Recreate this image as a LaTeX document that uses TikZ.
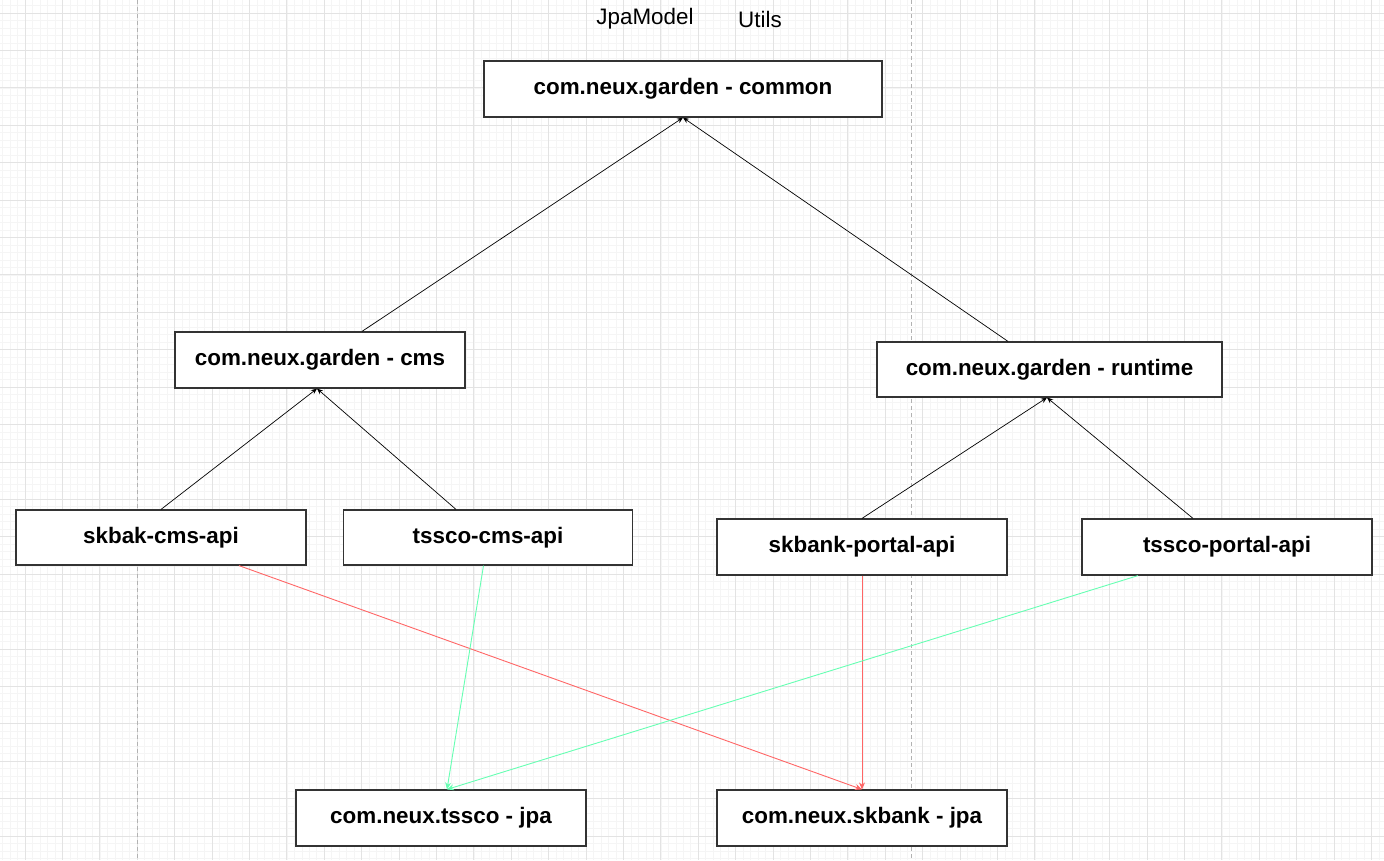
\documentclass[tikz,border=0pt]{standalone}
\usepackage{fontspec}
\setmainfont{Liberation Sans}
\usepackage{tikz}
\usetikzlibrary{arrows,arrows.meta}
\definecolor{minorgrid}{HTML}{F5F5F5}
\definecolor{majorgrid}{HTML}{E3E3E3}
\definecolor{jpared}{HTML}{FF6666}
\definecolor{jpagreen}{HTML}{66FFB3}

\begin{document}
\begin{tikzpicture}[x=1pt,y=-1pt,
  modbox/.style={draw=black!80,line width=1.2pt,fill=white,minimum width=290pt,
    minimum height=56pt,font=\fontsize{22.4}{26}\selectfont\bfseries},
  dep/.style={black,line width=0.7pt,-{Stealth[length=6pt,width=5pt]}},
  reddep/.style={jpared,line width=0.9pt,-{Stealth[length=7pt,width=6pt]}},
  greendep/.style={jpagreen,line width=0.9pt,-{Stealth[length=7pt,width=6pt]}}]
\useasboundingbox (0,0) rectangle (1384,860);
\fill[white] (0,0) rectangle (1384,860);
% grid
\foreach \i in {0,...,186} \draw[minorgrid,line width=0.5pt] (-4.92+7.48*\i,0)--(-4.92+7.48*\i,860);
\foreach \i in {0,...,116} \draw[minorgrid,line width=0.5pt] (0,-1.96+7.48*\i)--(1384,-1.96+7.48*\i);
\foreach \i in {0,...,37} \draw[majorgrid,line width=1pt] (25+37.4*\i,0)--(25+37.4*\i,860);
\foreach \i in {0,...,23} \draw[majorgrid,line width=1pt] (0,13+37.42*\i)--(1384,13+37.42*\i);
\draw[majorgrid,line width=1pt](0,798.6)--(118,798.6)(1064,798.6)--(1363,798.6);
\draw[black!30,line width=1pt,dash pattern=on 4pt off 3pt](137,0)--(137,860)(911,0)--(911,860);
% labels
\node[font=\fontsize{22.4}{26}\selectfont] (jpamodel) at (645,19) {JpaModel};
\node[font=\fontsize{22.4}{26}\selectfont] (utils) at (760,19) {Utils};
% modules
\node[modbox,minimum width=398pt] (common) at (683,89) {com.neux.garden - common};
\node[modbox] (cms) at (320,360) {com.neux.garden - cms};
\node[modbox,minimum width=345pt,minimum height=55pt] (runtime) at (1049.5,369.5) {com.neux.garden - runtime};
\node[modbox,minimum height=55pt] (skbakcms) at (161,537.5) {skbak-cms-api};
\node[modbox,minimum height=55pt,minimum width=289pt] (tsscocms) at (488,537.5) {tssco-cms-api};
\node[modbox] (skbankportal) at (862,547) {skbank-portal-api};
\node[modbox] (tsscoportal) at (1227,547) {tssco-portal-api};
\node[modbox] (tsscojpa) at (441,818) {com.neux.tssco - jpa};
\node[modbox] (skbankjpa) at (862,818) {com.neux.skbank - jpa};
% dependencies
\draw[dep]([xshift=42pt]cms.north)--(common.south);
\draw[dep]([xshift=-41.5pt]runtime.north)--(common.south);
\draw[dep](skbakcms.north)--([xshift=-3pt]cms.south);
\draw[dep]([xshift=-32pt]tsscocms.north)--([xshift=-3pt]cms.south);
\draw[dep](skbankportal.north)--([xshift=-2.5pt]runtime.south);
\draw[dep]([xshift=-34pt]tsscoportal.north)--([xshift=-2.5pt]runtime.south);
\draw[reddep]([xshift=78pt]skbakcms.south)--(skbankjpa.north);
\draw[reddep](skbankportal.south)--(skbankjpa.north);
\draw[greendep]([xshift=-4.5pt]tsscocms.south)--([xshift=6pt]tsscojpa.north);
\draw[greendep]([xshift=-89pt]tsscoportal.south)--([xshift=6pt]tsscojpa.north);
\end{tikzpicture}
\end{document}
